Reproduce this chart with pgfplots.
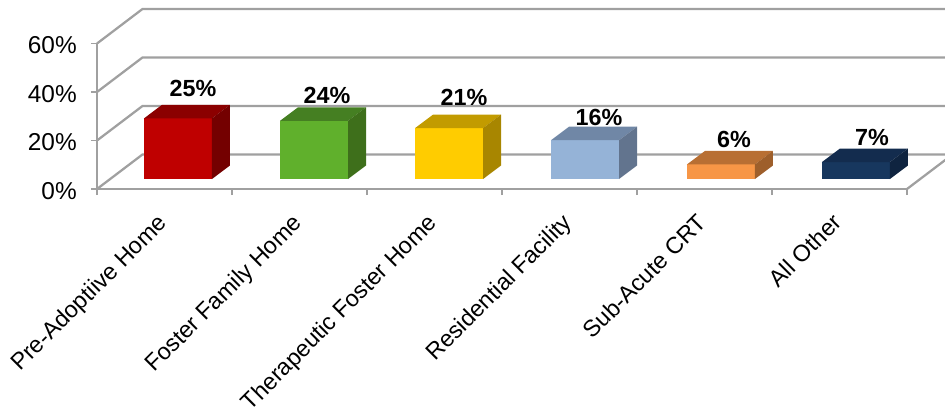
\documentclass[border=0pt]{standalone}
\usepackage{pgfplots}
\pgfplotsset{compat=1.18}
\usepackage{fontspec}
\setmainfont{Liberation Sans}
\definecolor{gridg}{HTML}{A0A0A0}
\definecolor{af}{HTML}{BF0000}\definecolor{at}{HTML}{8B0000}\definecolor{as}{HTML}{740000}
\definecolor{bf}{HTML}{60B02C}\definecolor{bt}{HTML}{457F22}\definecolor{bs}{HTML}{3E6F1B}
\definecolor{cf}{HTML}{FFCC00}\definecolor{ct}{HTML}{C29B00}\definecolor{cs}{HTML}{A88600}
\definecolor{df}{HTML}{95B3D7}\definecolor{dt}{HTML}{7087A6}\definecolor{ds}{HTML}{62748E}
\definecolor{ef}{HTML}{F79646}\definecolor{et}{HTML}{B86F33}\definecolor{es}{HTML}{9E5F2B}
\definecolor{ff}{HTML}{17375E}\definecolor{ft}{HTML}{132C4E}\definecolor{fs}{HTML}{0F2440}
% left edge (axis units), value, front, top, side colours
\newcommand{\threedbar}[5]{%
  \addplot[fill=#3,draw=none] coordinates {(#1,4.12) ({#1+0.5037},4.12) ({#1+0.5037},{4.12+#2}) (#1,{4.12+#2})} --cycle;
  \addplot[fill=#4,draw=none] coordinates {(#1,{4.12+#2}) ({#1+0.5037},{4.12+#2}) ({#1+0.637},{9.69+#2}) ({#1+0.1333},{9.69+#2})} --cycle;
  \addplot[fill=#5,draw=none] coordinates {({#1+0.5037},4.12) ({#1+0.637},9.69) ({#1+0.637},{9.69+#2}) ({#1+0.5037},{4.12+#2})} --cycle;
}
\tikzset{vallab/.style={font=\bfseries\fontsize{17.5pt}{20pt}\selectfont,inner sep=0pt}}
\begin{document}
\begin{tikzpicture}
\useasboundingbox (-72.75pt,-164.25pt) rectangle (636pt,141.75pt);
\begin{axis}[
  at={(0,0)},anchor=south west,
  scale only axis,width=607.5pt,height=109.125pt,
  xmin=0,xmax=6,ymin=0,ymax=60,clip=false,
  axis y line=left,axis x line=bottom,
  axis line style={-,draw=gridg,line width=1.7pt},
  tick align=outside,
  xtick={0.5,1.5,2.5,3.5,4.5,5.5},
  minor xtick={0,1,2,3,4,5,6},
  xticklabels={Pre-Adoptiive Home,Foster Family Home,Therapeutic Foster Home,Residential Facility,Sub-Acute CRT,All Other},
  ytick={0,20,40,60},
  yticklabel={\pgfmathprintnumber{\tick}\%},
  /pgf/number format/assume math mode=true,
  major tick length=4.5pt,minor tick length=4.5pt,
  major x tick style={draw=none},
  minor x tick style={draw=gridg,line width=1.3pt},
  ytick style={draw=gridg,line width=1.3pt},
  xticklabel style={rotate=45,anchor=north east,font=\fontsize{17.5pt}{20pt}\selectfont,inner sep=1pt,yshift=-3.5pt,xshift=-12.4pt},
  yticklabel style={font=\fontsize{18.3pt}{20pt}\selectfont,inner sep=1pt,xshift=-9.5pt,yshift=-1.2pt},
]
\addplot[gridg,line width=1.7pt] coordinates {(0,0) (0.337,14.23) (6.337,14.23)};
\addplot[gridg,line width=1.7pt] coordinates {(0,20) (0.337,34.23) (6.337,34.23)};
\addplot[gridg,line width=1.7pt] coordinates {(0,40) (0.337,54.23) (6.337,54.23)};
\addplot[gridg,line width=1.7pt] coordinates {(0,60) (0.337,74.23) (6.337,74.23)};
\addplot[gridg,line width=1.7pt] coordinates {(6,0) (6.337,14.23)};
\threedbar{0.348}{25}{af}{at}{as}
\threedbar{1.356}{24}{bf}{bt}{bs}
\threedbar{2.356}{21}{cf}{ct}{cs}
\threedbar{3.363}{16}{df}{dt}{ds}
\threedbar{4.370}{6}{ef}{et}{es}
\threedbar{5.370}{7}{ff}{ft}{fs}
\node[vallab] at (axis cs:0.711,41.6) {25\%};
\node[vallab] at (axis cs:1.704,38.4) {24\%};
\node[vallab] at (axis cs:2.719,37.9) {21\%};
\node[vallab] at (axis cs:3.719,29.3) {16\%};
\node[vallab] at (axis cs:4.719,20.6) {6\%};
\node[vallab] at (axis cs:5.741,21.4) {7\%};
\end{axis}
\end{tikzpicture}
\end{document}
